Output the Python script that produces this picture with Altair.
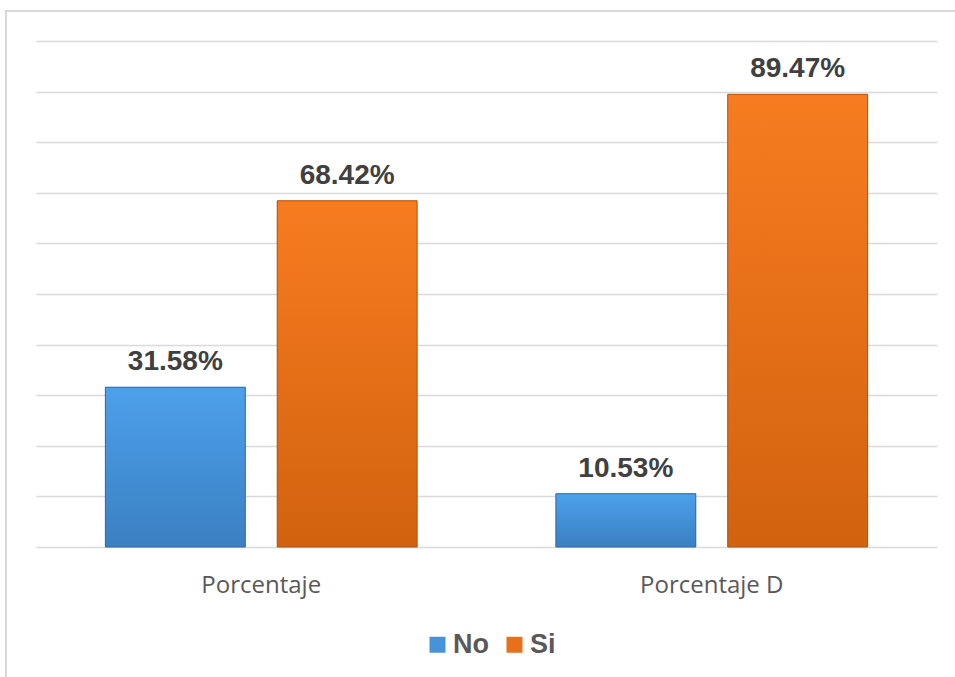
import altair as alt
import pandas as pd

categories = ["Porcentaje", "Porcentaje", "Porcentaje D", "Porcentaje D"]
series = ["No", "Si", "No", "Si"]
values = [0.3158, 0.6842, 0.1053, 0.8947]
labels = ["31.58%", "68.42%", "10.53%", "89.47%"]

df = pd.DataFrame({"cat": categories, "serie": series, "val": values, "lab": labels})

W, H = 901, 506
L, T = 36, 41

x = alt.X("cat:N", title=None, sort=["Porcentaje", "Porcentaje D"],
          scale=alt.Scale(paddingInner=0.308, paddingOuter=0.154),
          axis=alt.Axis(labelAngle=0, labelFontSize=24, labelFont="Open Sans", labelColor="#595959",
                        ticks=False, domain=False, grid=False, labelPadding=26))
xo = alt.XOffset("serie:N", scale=alt.Scale(paddingInner=0.186, paddingOuter=0))
y = alt.Y("val:Q", title=None, scale=alt.Scale(domain=[0, 1], nice=False),
          axis=alt.Axis(values=[i / 10 for i in range(11)], labels=False, ticks=False, domain=False,
                        gridColor="#d9d9d9", gridWidth=1.5))

bars = alt.Chart(df).mark_bar().encode(
    x=x, xOffset=xo, y=y,
    color=alt.Color("serie:N", title=None,
                    scale=alt.Scale(domain=["No", "Si"], range=["#4594d9", "#e8701a"]),
                    legend=alt.Legend(orient="none", legendX=388, legendY=590, direction="horizontal",
                                      symbolType="square", symbolSize=256, symbolStrokeWidth=0,
                                      labelFont="Liberation Sans", labelFontWeight="bold",
                                      labelFontSize=27, labelColor="#595959", labelOffset=2,
                                      columnPadding=12)),
)

grad_no = {"gradient": "linear", "x1": 0, "y1": 0, "x2": 0, "y2": 1,
           "stops": [{"offset": 0, "color": "#4da0ea"}, {"offset": 1, "color": "#3a80c2"}]}
grad_si = {"gradient": "linear", "x1": 0, "y1": 0, "x2": 0, "y2": 1,
           "stops": [{"offset": 0, "color": "#f77c20"}, {"offset": 1, "color": "#d2620f"}]}

bars_grad = alt.Chart(df).mark_bar(strokeWidth=1).encode(
    x=x, xOffset=xo, y=y,
    fill=alt.condition("datum.serie == 'No'", alt.value(grad_no), alt.value(grad_si)),
    stroke=alt.condition("datum.serie == 'No'", alt.value("#2f6aa6"), alt.value("#b5520c")),
)

text = alt.Chart(df).mark_text(baseline="alphabetic", dy=-17, fontSize=28, fontWeight="bold",
                               font="Liberation Sans", color="#404040").encode(
    x=x, xOffset=xo, y=y, text="lab:N")

frame = alt.Chart(pd.DataFrame({"a": [0]})).mark_rect(fill=None, stroke="#d9d9d9", strokeWidth=2,
                                                        clip=False).encode(
    x=alt.value(-30), x2=alt.value(W + 40), y=alt.value(-30), y2=alt.value(H + 160))

chart = alt.layer(frame, bars, bars_grad, text).properties(
    width=W, height=H,
    autosize=alt.AutoSizeParams(type="none"),
    padding={"left": L, "top": T, "right": 955 - L - W, "bottom": 677 - T - H},
    view=alt.ViewBackground(strokeWidth=0, stroke="transparent"),
).configure_view(strokeWidth=0, stroke="transparent").configure_axisX(grid=False).configure(background="white")

chart.save("out.html", embed_options={"renderer": "svg", "actions": False})
